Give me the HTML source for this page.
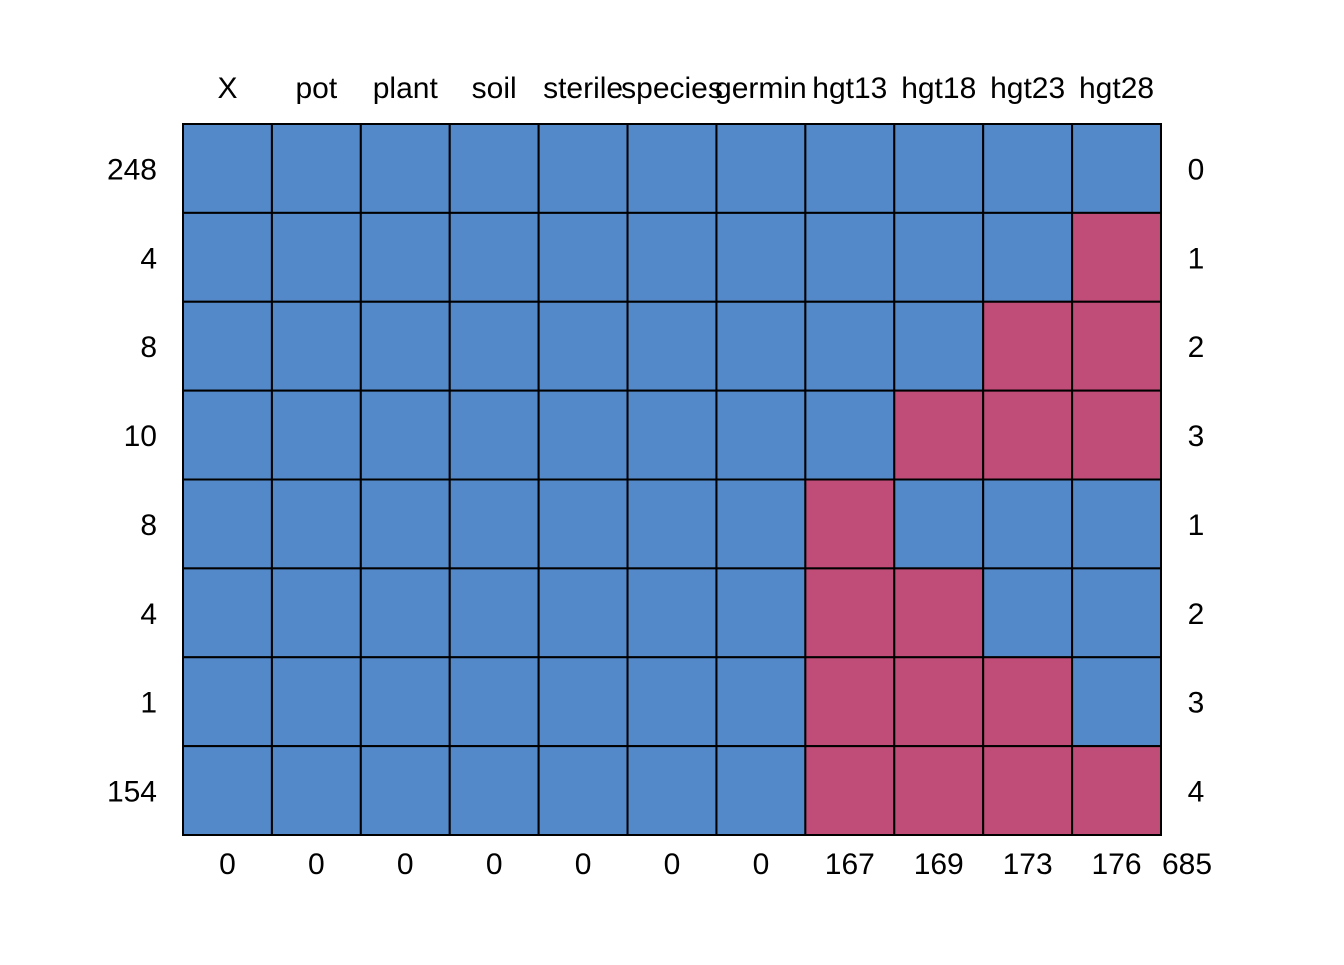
<!DOCTYPE html>
<html><head><meta charset="utf-8"><style>
html,body{margin:0;padding:0;background:#fff;}
svg text{font-family:"Liberation Sans",sans-serif;font-size:30px;fill:#000;}
</style></head><body>
<svg id="chart" width="1344" height="960" viewBox="0 0 1344 960" xmlns="http://www.w3.org/2000/svg"></svg>
<script>
const columns = ["X","pot","plant","soil","sterile","species","germin","hgt13","hgt18","hgt23","hgt28"];
const rowCounts = ["248","4","8","10","8","4","1","154"];
const rowMissing = ["0","1","2","3","1","2","3","4"];
const colMissing = ["0","0","0","0","0","0","0","167","169","173","176"];
const totalMissing = "685";
const pattern = [
 [1,1,1,1,1,1,1,1,1,1,1],
 [1,1,1,1,1,1,1,1,1,1,0],
 [1,1,1,1,1,1,1,1,1,0,0],
 [1,1,1,1,1,1,1,1,0,0,0],
 [1,1,1,1,1,1,1,0,1,1,1],
 [1,1,1,1,1,1,1,0,0,1,1],
 [1,1,1,1,1,1,1,0,0,0,1],
 [1,1,1,1,1,1,1,0,0,0,0]
];
const svg = document.getElementById('chart');
const NS = 'http://www.w3.org/2000/svg';
const x0 = 183, x1 = 1161, y0 = 124, y1 = 835;
const cw = (x1 - x0) / columns.length, rh = (y1 - y0) / rowCounts.length;
const xs = i => x0 + i * cw, ys = j => y0 + j * rh;
function mk(tag, attrs, txt) {
  const e = document.createElementNS(NS, tag);
  for (const k in attrs) e.setAttribute(k, attrs[k]);
  if (txt !== undefined) e.textContent = txt;
  svg.appendChild(e);
  return e;
}
pattern.forEach((row, j) => row.forEach((v, i) => {
  const r = mk('rect', {x: xs(i), y: ys(j), width: cw, height: rh, fill: v ? '#5389C9' : '#C04D77', stroke: '#000', 'stroke-width': 2});
  
  
}));
columns.forEach((c, i) => {
  const t = mk('text', {x: xs(i) + cw / 2, y: 98, 'text-anchor': 'middle'}, c);
  
  
  const b = mk('text', {x: xs(i) + cw / 2, y: 874, 'text-anchor': 'middle'}, colMissing[i]);
  
  
});
rowCounts.forEach((c, j) => {
  const t = mk('text', {x: 157, y: ys(j) + rh / 2 + 11, 'text-anchor': 'end'}, c);
  
  
  const r = mk('text', {x: 1196, y: ys(j) + rh / 2 + 11, 'text-anchor': 'middle'}, rowMissing[j]);
  
  
});
const tt = mk('text', {x: 1187, y: 874, 'text-anchor': 'middle'}, totalMissing);


</script>
</body></html>
